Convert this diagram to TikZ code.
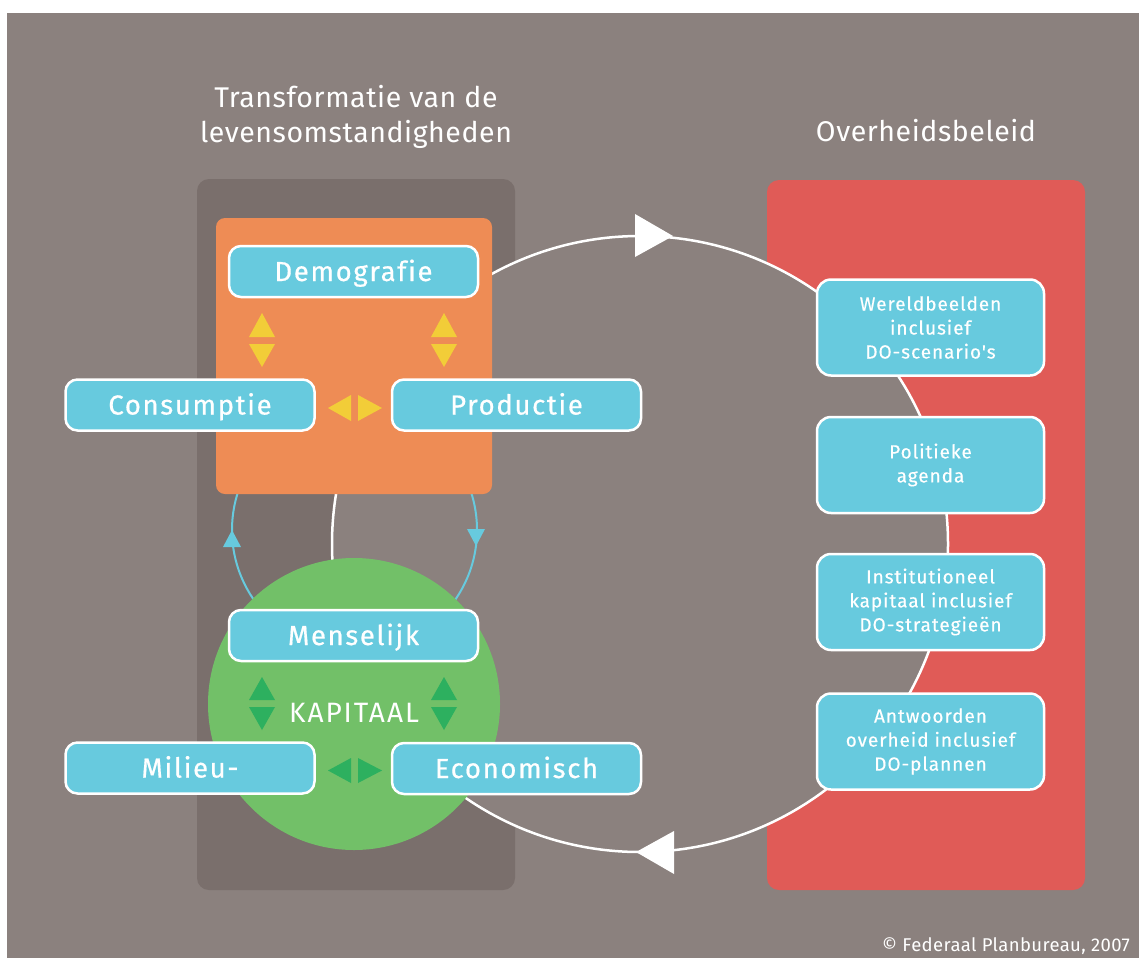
\documentclass[tikz,border=0pt]{standalone}
\usepackage{fontspec}
\setmainfont{Fira Sans}[LetterSpace=2]
\newfontfamily\boxfont{Fira Sans}[LetterSpace=6, FakeBold=0.6, Ligatures=NoCommon]
\newfontfamily\rboxfont{Fira Sans}[LetterSpace=5, FakeBold=0.4, Ligatures=NoCommon]
\newfontfamily\kapfont{Fira Sans}[LetterSpace=7]
\definecolor{bggray}{HTML}{8B817E}
\definecolor{darkpanel}{HTML}{7A6F6C}
\definecolor{redpanel}{HTML}{E05B57}
\definecolor{orangec}{HTML}{EE8C55}
\definecolor{boxblue}{HTML}{67CADE}
\definecolor{greenc}{HTML}{72C068}
\definecolor{greentri}{HTML}{2DB05F}
\definecolor{yellowtri}{HTML}{F2CD38}
\begin{document}
\begin{tikzpicture}[x=1pt,y=-1pt,
  cbox/.style={draw=white, line width=2.5pt, fill=boxblue, rounded corners=12pt,
    minimum width=249pt, minimum height=51pt, inner sep=0pt, text=white,
    font=\boxfont\fontsize{27.5}{32}\selectfont, text height=19pt, text depth=0pt},
  rbox/.style={draw=white, line width=2.5pt, fill=boxblue, rounded corners=14pt,
    minimum width=227pt, minimum height=96pt, inner sep=0pt, text=white, align=center,
    font=\rboxfont\fontsize{19}{24}\selectfont},
  ytri/.style={fill=yellowtri},
  gtri/.style={fill=greentri},
  btri/.style={fill=boxblue},
  wtri/.style={fill=white},
  title/.style={text=white, inner sep=0pt, font=\fontsize{28.5}{35}\selectfont}]
\useasboundingbox (0,0) rectangle (1139,958);
\fill[white] (0,0) rectangle (1139,958);
\fill[bggray] (7,13) rectangle (1139,958);
% panels
\fill[darkpanel, rounded corners=12pt] (197,179) rectangle (515,890);
\fill[redpanel, rounded corners=12pt] (767,180) rectangle (1085,890);
% big cycle
\draw[white, line width=2.5pt, fill=bggray] (640,544) circle [radius=308pt];
% small blue cycle
\draw[boxblue, line width=2pt] (354.5,530) circle [radius=122.5pt];
% orange block and green circle
\fill[orangec, rounded corners=9pt] (216,218) rectangle (492,494);
\fill[greenc] (354,704) circle [radius=146pt];
% big cycle arrowheads
\fill[wtri] (635,214) -- (635,257) -- (673,236) -- cycle;
\fill[wtri] (674,831) -- (674,874) -- (636,852) -- cycle;
% blue arrowheads
\fill[btri] (223,547) -- (241,547) -- (232,530) -- cycle;
\fill[btri] (467,529) -- (485,529) -- (476,546) -- cycle;
% yellow triangles
\fill[ytri] (249,337) -- (275,337) -- (262,313) -- cycle;
\fill[ytri] (249,344) -- (275,344) -- (262,367) -- cycle;
\fill[ytri] (431,337) -- (457,337) -- (444,313) -- cycle;
\fill[ytri] (431,344) -- (457,344) -- (444,367) -- cycle;
\fill[ytri] (351,395) -- (351,421) -- (328,408) -- cycle;
\fill[ytri] (358,395) -- (358,421) -- (382,408) -- cycle;
% green triangles
\fill[gtri] (249,700) -- (275,700) -- (262,677) -- cycle;
\fill[gtri] (249,707) -- (275,707) -- (262,730) -- cycle;
\fill[gtri] (431,700) -- (457,700) -- (444,677) -- cycle;
\fill[gtri] (431,707) -- (457,707) -- (444,730) -- cycle;
\fill[gtri] (351,758) -- (351,783) -- (328,770.5) -- cycle;
\fill[gtri] (358,758) -- (358,783) -- (382,770.5) -- cycle;
% boxes
\node[cbox] (demo) at (353.5,271.5) {Demografie};
\node[cbox] (cons) at (190,405) {Consumptie};
\node[cbox] (prod) at (516.5,405) {Productie};
\node[cbox] (mens) at (353.5,635.5) {Menselijk};
\node[cbox] (mili) at (190,768) {Milieu-};
\node[cbox] (econ) at (516.5,768.5) {Economisch};
\node[text=white, inner sep=0pt, anchor=base, font=\kapfont\fontsize{28}{32}\selectfont] (kap) at (354,722) {KAPITAAL};
\node[rbox] (wer) at (930.5,327.5) {Wereldbeelden\\inclusief\\DO-scenario's};
\node[rbox] (pol) at (930.5,465) {Politieke\\agenda};
\node[rbox] (ins) at (930.5,602) {Institutioneel\\kapitaal inclusief\\DO-strategieën};
\node[rbox] (ant) at (930.5,741.5) {Antwoorden\\overheid inclusief\\DO-plannen};
% titles
\node[title, anchor=base] (t1) at (356,107) {Transformatie van de};
\node[title, anchor=base] (t2) at (356,142) {levensomstandigheden};
\node[title, anchor=base] (t3) at (926,141) {Overheidsbeleid};
\node[text=white, inner sep=0pt, anchor=base east, font=\fontsize{18.5}{22}\selectfont] (copy) at (1130,951) {© Federaal Planbureau, 2007};
\end{tikzpicture}
\end{document}
